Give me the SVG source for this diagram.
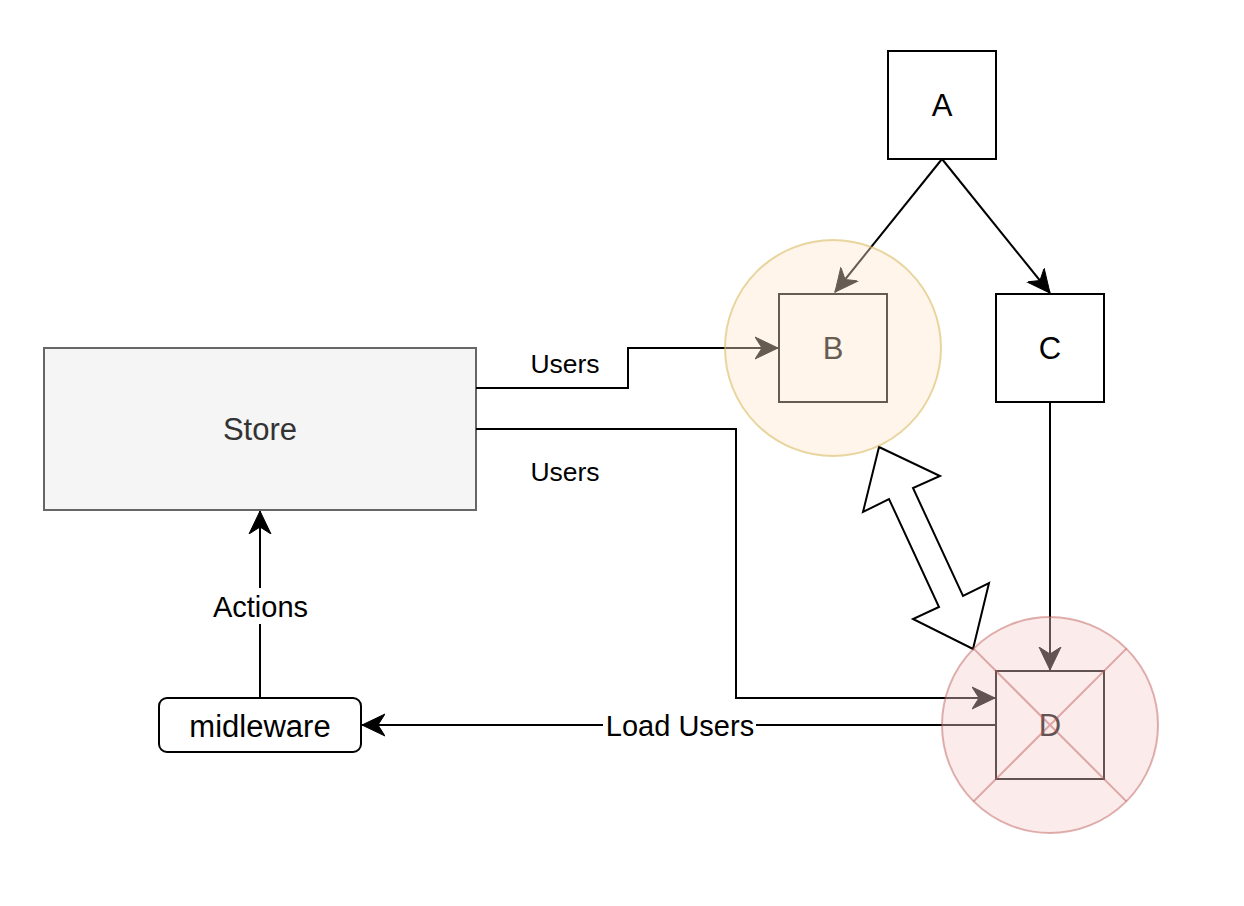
<svg xmlns="http://www.w3.org/2000/svg" width="1244" height="906" viewBox="0 0 1244 906">
<style>
.box{fill:#ffffff;stroke:#000000;stroke-width:2}
.lbl{font-family:"Liberation Sans",Arial,Helvetica,sans-serif;font-size:31px;fill:#000000;text-anchor:middle}
.elbl{font-family:"Liberation Sans",Arial,Helvetica,sans-serif;font-size:29px;fill:#000000;text-anchor:middle}
.ulbl{font-family:"Liberation Sans",Arial,Helvetica,sans-serif;font-size:26.5px;fill:#000000;text-anchor:middle}
.edge{fill:none;stroke:#000000;stroke-width:2;marker-end:url(#arr)}
</style>
<defs>
<marker id="arr" markerUnits="userSpaceOnUse" markerWidth="26" markerHeight="26" viewBox="0 0 26 26" refX="23" refY="13" orient="auto">
<path d="M0,2 L23,13 L0,24 L7,13 Z" fill="#000000" stroke="#000000" stroke-width="1"/>
</marker>
</defs>
<rect width="1244" height="906" fill="#ffffff"/>

<g id="node-A">
<rect class="box" x="888" y="51" width="108" height="108"/>
<text class="lbl" x="942" y="116">A</text>
</g>
<g id="node-B">
<rect class="box" x="779" y="294" width="108" height="108"/>
<text class="lbl" x="833" y="359">B</text>
</g>
<g id="node-C">
<rect class="box" x="996" y="294" width="108" height="108"/>
<text class="lbl" x="1050" y="359">C</text>
</g>
<g id="node-D">
<rect class="box" x="996" y="671" width="108" height="108"/>
<text class="lbl" x="1050" y="736">D</text>
</g>
<g id="node-Store">
<rect x="44" y="348" width="432" height="162" fill="#f5f5f5" stroke="#666666" stroke-width="2"/>
<text class="lbl" x="260" y="440" style="fill:#333333">Store</text>
</g>
<g id="node-midleware">
<rect class="box" x="159" y="698" width="202" height="54" rx="8" ry="8"/>
<text class="lbl" x="260" y="737">midleware</text>
</g>

<g id="connectors">
<path id="e-store-b" class="edge" d="M476,388 H628 V348 H778"/>
<text class="ulbl" x="565" y="373">Users</text>
<path id="e-store-d" class="edge" d="M476,429 H736 V698 H995"/>
<text class="ulbl" x="565" y="481">Users</text>
<path id="e-a-b" class="edge" d="M942,159 L835,292"/>
<path id="e-a-c" class="edge" d="M942,159 L1050,293"/>
<path id="e-c-d" class="edge" d="M1050,402 V670"/>
<path id="e-d-mid" class="edge" d="M996,725 H362"/>
<rect x="603" y="707" width="153" height="36" fill="#ffffff"/>
<text class="elbl" x="680" y="736">Load Users</text>
<path id="e-mid-store" class="edge" d="M260,698 V511"/>
<rect x="212" y="588" width="97" height="36" fill="#ffffff"/>
<text class="elbl" x="260.5" y="617">Actions</text>
<polygon id="e-b-d" points="879,447 940,476 913,488 963,596 989,583 973,649 913,619 939,607 889,499 863,512" fill="#ffffff" stroke="#000000" stroke-width="2" stroke-linejoin="miter"/>
</g>

<g id="circle-B">
<circle cx="833" cy="348" r="108" fill="#ffe6cc" fill-opacity="0.4" stroke="#d6b656" stroke-opacity="0.55" stroke-width="2"/>
</g>
<g id="circle-D">
<circle cx="1050" cy="725" r="108" fill="#f8cecc" fill-opacity="0.4" stroke="#b85450" stroke-opacity="0.45" stroke-width="2"/>
<path d="M973.6,648.6 L1126.4,801.4 M1126.4,648.6 L973.6,801.4" fill="none" stroke="#b85450" stroke-opacity="0.45" stroke-width="2"/>
</g>
</svg>
